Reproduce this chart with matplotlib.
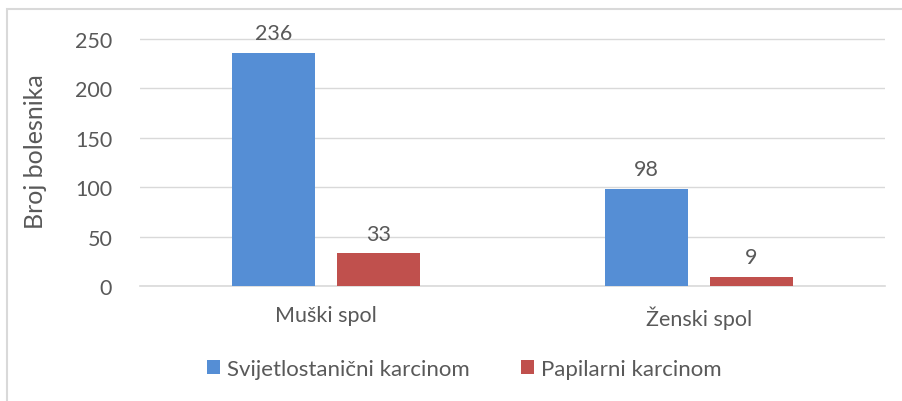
import numpy as np
import matplotlib.pyplot as plt
from matplotlib.patches import Rectangle

categories = ["Muški spol", "Ženski spol"]
series_names = ["Svijetlostanični karcinom", "Papilarni karcinom"]
svijetlo = [236, 98]
papilarni = [33, 9]
colors = ["#558ED5", "#C0504D"]
text_color = "#595959"

plt.rcParams["font.family"] = ["Lato", "DejaVu Sans"]

fig = plt.figure(figsize=(9.02, 4.02), dpi=100)
ax = fig.add_axes([140 / 902, 1 - 287 / 402, 745 / 902, 247 * 1.1 / 402])

x = np.arange(len(categories))
w = 0.223
gap = 0.059
off = (w + gap) / 2
for vals, name, c, sign in [(svijetlo, series_names[0], colors[0], -1),
                            (papilarni, series_names[1], colors[1], 1)]:
    bars = ax.bar(x + sign * off, vals, w, color=c, label=name, zorder=3)
    for b, v in zip(bars, vals):
        ax.text(b.get_x() + b.get_width() / 2, v + 10, str(v), ha="center",
                va="bottom", fontsize=15.5, color=text_color)

ax.set_xlim(-0.5, 1.5)
ax.set_ylim(0, 275)
ax.set_yticks(range(0, 251, 50))
ax.set_xticks(x)
ax.set_xticklabels(categories)
ax.yaxis.grid(True, color="#D9D9D9", linewidth=1, zorder=0)
for s in ["top", "right", "left"]:
    ax.spines[s].set_visible(False)
ax.spines["bottom"].set_color("#D9D9D9")
ax.spines["bottom"].set_linewidth(1.2)
ax.tick_params(axis="both", length=0, labelsize=15.5, labelcolor=text_color)
ax.tick_params(axis="x", pad=14)
ax.tick_params(axis="y", pad=20)
ax.set_ylabel("Broj bolesnika", fontsize=18, color=text_color, labelpad=20)

leg_y = (1 - 370 / 402 - (1 - 287 / 402)) / (247 * 1.1 / 402)
leg_x = (464 - 140) / 745
ax.legend(loc="center", bbox_to_anchor=(leg_x, leg_y),
          ncol=2, frameon=False, fontsize=16, labelcolor=text_color,
          handlelength=0.6, handleheight=0.6, handletextpad=0.3, columnspacing=2.3)

fig.patches.append(Rectangle((7 / 902, -0.1), 1.2, 1 - 10 / 402 + 0.1,
                             transform=fig.transFigure, fill=False,
                             edgecolor="#D9D9D9", linewidth=1.5))

fig.savefig("out.png", dpi=100)
